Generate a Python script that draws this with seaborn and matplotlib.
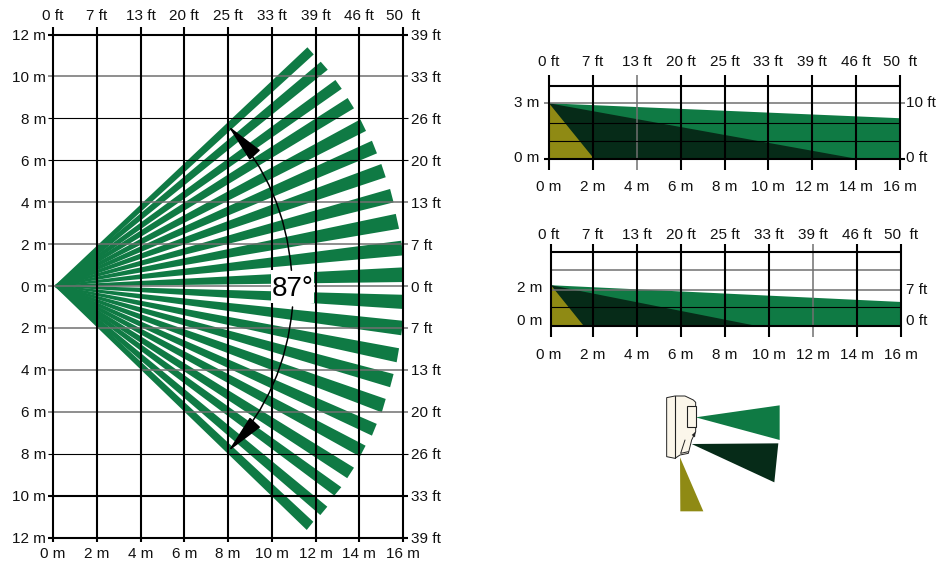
import numpy as np
import pandas as pd
import matplotlib
matplotlib.use("Agg")
import matplotlib.pyplot as plt
from matplotlib.patches import FancyArrowPatch, Rectangle, Polygon
import seaborn as sns

W, H = 938, 563
GREEN = "#0f7a44"
DARK = "#062b18"
OLIVE = "#8f8a14"
IVORY = "#fbf6ea"
GREY = "#666666"

metres = [0, 2, 4, 6, 8, 10, 12, 14, 16]
x_m_labels = [f"{v} m" for v in metres]
x_ft_labels = ["0 ft", "7 ft", "13 ft", "20 ft", "25 ft", "33 ft", "39 ft", "46 ft", "50  ft"]

main_y = [12, 10, 8, 6, 4, 2, 0, -2, -4, -6, -8, -10, -12]
main_y_m = [f"{abs(v)} m" for v in main_y]
main_y_ft = ["39 ft", "33 ft", "26 ft", "20 ft", "13 ft", "7 ft", "0 ft", "7 ft", "13 ft", "20 ft", "26 ft", "33 ft", "39 ft"]
main_y_style = ["thick", "grey", "thin", "thin", "grey", "grey", "grey", "grey", "grey", "grey", "thin", "thick", "thick"]

beam_apex = (0.09, 0.0)
beam_base = 0.03
beam_root = [0.08, 0.072, 0.064, 0.056, 0.048, 0.04, 0.032, 0.024, 0.016, 0.008, 0.0,
             -0.0, -0.008, -0.016, -0.024, -0.032, -0.04, -0.048, -0.056, -0.064, -0.072, -0.08]
beam_a_x = [11.63, 12.24, 12.91, 13.47, 14.05, 14.58, 15.01, 15.41, 15.67, 15.92, 16.03,
            16.06, 16.01, 15.82, 15.57, 15.21, 14.80, 14.29, 13.76, 13.18, 12.54, 11.90]
beam_a_y = [11.39, 10.70, 9.83, 8.97, 7.95, 6.93, 5.82, 4.63, 3.44, 2.16, 0.89,
            -0.42, -1.66, -2.97, -4.20, -5.39, -6.58, -7.62, -8.67, -9.60, -10.53, -11.25]
beam_b_x = [11.92, 12.56, 13.20, 13.76, 14.31, 14.81, 15.21, 15.57, 15.82, 16.00, 16.08,
            16.06, 15.92, 15.71, 15.41, 15.03, 14.58, 14.03, 13.45, 12.86, 12.22, 11.60]
beam_b_y = [11.05, 10.32, 9.41, 8.48, 7.40, 6.33, 5.19, 3.99, 2.73, 1.46, 0.19,
            -1.10, -2.35, -3.64, -4.83, -6.03, -7.14, -8.14, -9.17, -10.00, -10.93, -11.64]

side1_lines = [3.95, 3.0, 1.92, 0.97, 0.0]
side1_style = ["thick", "grey", "thin", "thin", "thick"]
side1_ext = [0, 0.25, 0, 0, 0.25]
side1_grey_x = 4
side1_green = ([0, 16, 16, 0], [3.0, 2.19, 0, 0])
side1_dark = ([0, 14.0, 0], [3.0, 0, 0])
side1_olive = ([0, 2.05, 0], [3.0, 0, 0])

side2_lines = [3.65, 2.75, 1.77, 0.95, 0.0]
side2_style = ["thick", "grey", "grey", "thin", "thick"]
side2_ext = [0, 0, 0, 0, 0]
side2_grey_x = 12
side2_green = ([0.09, 16, 16, 0.09], [2.0, 1.18, -0.09, -0.09])
side2_dark = ([0.09, 9.7, 0.09], [2.0, -0.05, -0.05])
side2_olive = ([0.09, 1.65, 0.09], [2.0, -0.09, -0.09])

icon_body = [(80, 38), (105, 33), (135, 33), (160, 45), (167, 52), (167, 140), (155, 165),
             (145, 205), (120, 210), (105, 220), (80, 215)]
icon_green = [(167, 97), (419, 61), (419, 165)]
icon_dark = [(155, 177), (415, 175), (403, 292)]
icon_olive = [(120, 217), (190, 379), (121, 379)]

sns.set_theme(style="white", rc={"font.family": ["Liberation Sans", "DejaVu Sans"], "font.size": 11})
plt.rcParams["font.family"] = ["Liberation Sans", "DejaVu Sans"]
fig = plt.figure(figsize=(W / 100, H / 100), dpi=100)


def px_axes(x0, x1, ytop, ybot):
    return fig.add_axes([x0 / W, 1 - ybot / H, (x1 - x0) / W, (ybot - ytop) / H], facecolor="none")


STYLE = {"thick": ("black", 1.5), "grey": ("#707070", 1.1), "thin": ("black", 0.8)}


def draw_lines(ax, segs):
    df = pd.DataFrame(segs, columns=["id", "x", "y", "style"])
    for style, part in df.groupby("style"):
        color, lw = STYLE[style]
        sns.lineplot(data=part, x="x", y="y", units="id", estimator=None, sort=False, ax=ax,
                     color=color, lw=lw, clip_on=False, zorder=3, solid_capstyle="butt", legend=False)


def style_axes(ax, xlim, ylim, yl, yl_lab, yr, yr_lab, pads):
    ax.set_xlim(*xlim)
    ax.set_ylim(*ylim)
    ax.set_xlabel("")
    ax.set_ylabel("")
    sns.despine(ax=ax, left=True, bottom=True)
    ax.set_xticks(metres, x_m_labels)
    ax.set_yticks(yl, yl_lab)
    ax.tick_params(axis="x", length=0, pad=pads[0], labelsize=11, colors="#111111")
    ax.tick_params(axis="y", length=0, pad=pads[1], labelsize=11, colors="#111111")
    top = ax.secondary_xaxis("top")
    top.set_xticks(metres, x_ft_labels)
    top.tick_params(length=0, pad=pads[2], labelsize=11, colors="#111111")
    right = ax.secondary_yaxis("right")
    right.set_yticks(yr, yr_lab)
    right.tick_params(length=0, pad=pads[3], labelsize=11, colors="#111111")
    for s in list(top.spines.values()) + list(right.spines.values()):
        s.set_visible(False)


# Main plan view
ax = px_axes(53, 403, 34.5, 537.5)
for ax_, ay, bx, by, root in zip(beam_a_x, beam_a_y, beam_b_x, beam_b_y, beam_root):
    x0, y0 = beam_apex
    if root >= 0:
        xs = [x0, ax_, bx, x0 + 1.1 * root]
        ys = [y0 + beam_base, ay, by, y0 - beam_base - root]
    else:
        xs = [x0 - 1.1 * root, ax_, bx, x0]
        ys = [y0 + beam_base - root, ay, by, y0 - beam_base]
    ax.fill(xs, ys, color=GREEN, lw=0, zorder=2)
segs = []
for i, (v, st) in enumerate(zip(main_y, main_y_style)):
    segs += [(f"h{i}", -0.23, v, st), (f"h{i}", 16.23, v, st)]
for i, v in enumerate(metres):
    segs += [(f"v{i}", v, -12.2, "thick"), (f"v{i}", v, 12.36, "thick")]
draw_lines(ax, segs)
style_axes(ax, (0, 16), (-12, 12), main_y, main_y_m, main_y, main_y_ft, (7, 5, 8, 5.5))
ax.add_patch(Rectangle((9.97, -0.8), 1.94, 1.55, color="white", lw=0, zorder=4))
ax.text(10.94, -0.15, "87°", ha="center", va="center", fontsize=20, color="black", zorder=5)
for a, b, rad in [((10.9, 0.75), (8.0, 7.65), 0.17), ((10.95, -1.0), (8.0, -7.9), -0.17)]:
    ax.add_patch(FancyArrowPatch(a, b, connectionstyle=f"arc3,rad={rad}",
                                 arrowstyle="-|>,head_length=11.4,head_width=2.05", mutation_scale=2.2,
                                 color="black", lw=1.1, shrinkA=0, shrinkB=0, zorder=5))


def side_panel(rect, ymax, lines, styles, exts, grey_x, green, dark, olive, yl, yl_lab, yr, yr_lab, vtop, vbot, x0_line, pads):
    a = px_axes(*rect)
    a.fill(*green, color=GREEN, lw=0, zorder=1)
    a.fill(*dark, color=DARK, lw=0, zorder=2)
    a.fill(*olive, color=OLIVE, lw=0, zorder=2.5)
    sg = []
    for i, (v, st, ext) in enumerate(zip(lines, styles, exts)):
        sg += [(f"h{i}", x0_line - ext, v, st), (f"h{i}", 16 + ext, v, st)]
    for i, v in enumerate(metres):
        xv = x0_line if v == 0 else v
        sg += [(f"v{i}", xv, vbot, "grey" if v == grey_x else "thick"),
               (f"v{i}", xv, vtop, "grey" if v == grey_x else "thick")]
    draw_lines(a, sg)
    style_axes(a, (0, 16), (0, ymax), yl, yl_lab, yr, yr_lab, pads)
    return a


side_panel((549, 900, 85.7, 158.7), 3.95, side1_lines, side1_style, side1_ext, side1_grey_x,
           side1_green, side1_dark, side1_olive,
           [3.07, 0.1], ["3 m", "0 m"], [3.07, 0.1], ["10 ft", "0 ft"], 4.55, -0.62, 0.0, (15, 7, 12, 4))
side_panel((549, 900.7, 252, 326), 3.63, side2_lines, side2_style, side2_ext, side2_grey_x,
           side2_green, side2_dark, side2_olive,
           [1.92, 0.295], ["2 m", "0 m"], [1.82, 0.295], ["7 ft", "0 ft"], 4.03, -0.55, 0.09, (16, 5, 7, 4))

# Sensor icon, in zoom-crop coordinates
ic = px_axes(640, 800, 385, 520)
ic.set_xlim(0, 480)
ic.set_ylim(405, 0)
ic.axis("off")
ic.add_patch(Polygon(icon_green, color=GREEN, lw=0))
ic.add_patch(Polygon(icon_dark, color=DARK, lw=0))
ic.add_patch(Polygon(icon_olive, color=OLIVE, lw=0))
ic.add_patch(Polygon(icon_body, facecolor=IVORY, edgecolor="#222222", lw=0.7))
ic.plot([105, 105], [33, 220], color="#222222", lw=0.8)
ic.add_patch(Rectangle((142, 62), 25, 65, facecolor=IVORY, edgecolor="#222222", lw=0.8))
ic.plot([135, 122, 145], [165, 205, 200], color="#222222", lw=0.7)
ic.add_patch(Polygon([(155, 150), (167, 140), (165, 157)], color="#222222", lw=0))

fig.savefig("out.png", dpi=100)
